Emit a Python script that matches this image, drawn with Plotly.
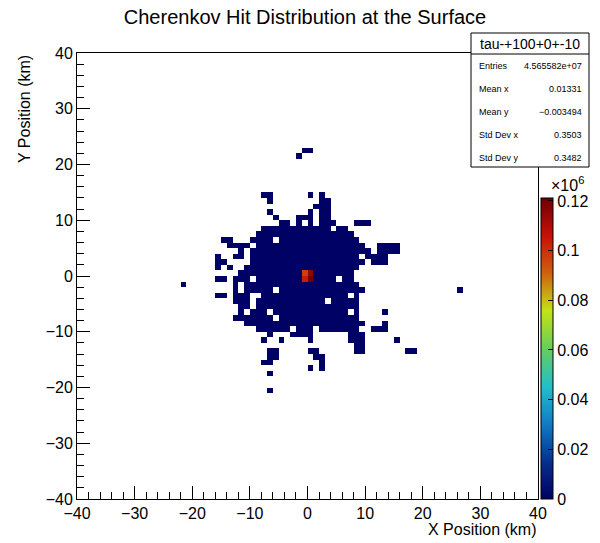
import numpy as np
import plotly.graph_objects as go

title = "Cherenkov Hit Distribution at the Surface"
hist_name = "tau-+100+0+-10"
stat_labels = ["Entries", "Mean x", "Mean y", "Std Dev x", "Std Dev y"]
stat_values = ["4.565582e+07", "0.01331", "\u22120.003494", "0.3503", "0.3482"]

# 1 km bins from -40 to 40 km on both axes
bin_edges = np.arange(-40, 41)

# occupied bins, as runs along x: (y bin low edge, first x bin, last x bin), km
hit_runs = [
    (22, -1, 0), (21, -2, -2),
    (14, -8, -7), (14, 0, 0), (14, 2, 2),
    (13, -7, -7), (13, 2, 3),
    (12, 1, 3),
    (11, -7, -7), (11, 0, 0), (11, 2, 3),
    (10, -6, -6), (10, -2, 0), (10, 2, 3),
    (9, -5, -4), (9, -2, -2), (9, 0, 0), (9, 2, 4), (9, 8, 10),
    (8, -8, 3), (8, 5, 6),
    (7, -9, 7),
    (6, -15, -14), (6, -10, -7), (6, -5, 8),
    (5, -14, -11), (5, -9, 9), (5, 12, 15),
    (4, -12, -12), (4, -10, 10), (4, 12, 15),
    (3, -16, -16), (3, -13, -12), (3, -10, 8), (3, 10, 13),
    (2, -16, -15), (2, -10, 9), (2, 11, 13),
    (1, -16, -16), (1, -14, -14), (1, -11, 8),
    (0, -12, 7),
    (-1, -16, -15), (-1, -13, -11), (-1, -9, 4), (-1, 6, 7),
    (-2, -22, -22), (-2, -13, -13), (-2, -11, 8),
    (-3, -13, -13), (-3, -11, -7), (-3, -5, 9), (-3, 26, 26),
    (-4, -16, -15), (-4, -13, -11), (-4, -8, 6), (-4, 8, 8),
    (-5, -13, -11), (-5, -9, 2), (-5, 4, 8),
    (-6, -12, -11), (-6, -9, 8),
    (-7, -12, -12), (-7, -10, -8), (-7, -6, 6), (-7, 8, 8), (-7, 13, 13),
    (-8, -13, -7), (-8, -5, 8),
    (-9, -11, 9), (-9, 13, 13),
    (-10, -9, -4), (-10, -2, 0), (-10, 2, 8), (-10, 11, 13),
    (-11, -7, -7), (-11, -3, 0), (-11, 7, 9),
    (-12, -8, -8), (-12, -5, -5), (-12, 0, 0), (-12, 7, 9), (-12, 15, 15),
    (-13, 8, 9),
    (-14, -7, -6), (-14, 0, 1), (-14, 8, 9), (-14, 17, 18),
    (-15, -7, -6), (-15, 1, 2),
    (-16, -8, -7), (-16, 2, 2),
    (-17, 0, 0), (-17, 2, 2),
    (-18, -7, -7),
    (-21, -7, -7),
]
halo_count = 300

# the four central bins hold almost everything
core_x = [-1, 0, -1, 0]
core_y = [0, 0, -1, -1]
core_counts = [97000, 115000, 104000, 121200]

cbar_ticks = [0, 20000, 40000, 60000, 80000, 100000, 120000]
cbar_text = ["0", "0.02", "0.04", "0.06", "0.08", "0.1", "0.12"]
axis_ticks = [-40, -30, -20, -10, 0, 10, 20, 30, 40]
axis_text = ["\u221240", "\u221230", "\u221220", "\u221210", "0", "10", "20", "30", "40"]

# ROOT kRainBow palette
rainbow = [
    [0.0, "rgb(0,0,99)"], [0.125, "rgb(5,48,142)"], [0.25, "rgb(15,124,198)"],
    [0.375, "rgb(35,192,201)"], [0.5, "rgb(102,206,90)"], [0.625, "rgb(196,226,22)"],
    [0.75, "rgb(208,97,13)"], [0.875, "rgb(199,16,8)"], [1.0, "rgb(110,0,2)"],
]

n = len(bin_edges) - 1
centers = (bin_edges[:-1] + bin_edges[1:]) / 2
z = [[None] * n for _ in range(n)]
for yb, x0, x1 in hit_runs:
    for xb in range(x0, x1 + 1):
        z[yb + 40][xb + 40] = halo_count
for xb, yb, c in zip(core_x, core_y, core_counts):
    z[yb + 40][xb + 40] = c

FONT = "Liberation Sans, Arial, Helvetica, sans-serif"
W, H = 600, 543
L, R, T, B = 77, 62, 53, 44
pw, ph = W - L - R, H - T - B


def px(x):
    return (x - L) / pw


def py(y):
    return (H - B - y) / ph


fig = go.Figure()
fig.add_trace(go.Heatmap(
    x=centers, y=centers, z=z,
    colorscale=rainbow, zmin=0, zmax=121200,
    hoverongaps=False,
    colorbar=dict(
        x=px(541), xanchor="left", xpad=0,
        y=0, yanchor="bottom", ypad=0,
        len=py(198), lenmode="fraction",
        thickness=12, outlinewidth=1, outlinecolor="black",
        tickvals=cbar_ticks, ticktext=cbar_text,
        ticks="inside", ticklen=5, tickcolor="black",
        tickfont=dict(family=FONT, size=16, color="black"),
    ),
))

axis_style = dict(
    range=[-40, 40], tickvals=axis_ticks, ticktext=axis_text,
    ticks="inside", ticklen=13, tickcolor="black",
    minor=dict(ticks="inside", ticklen=7, dtick=2, tickcolor="black"),
    showline=True, linecolor="black", linewidth=1, mirror=True,
    showgrid=False, zeroline=False,
    tickfont=dict(family=FONT, size=16, color="black"),
)

fig.update_layout(
    width=W, height=H,
    margin=dict(l=L, r=R, t=T, b=B, autoexpand=False),
    paper_bgcolor="white", plot_bgcolor="white",
    title=dict(text=title, x=305 / W, xanchor="center", y=1 - 17 / H, yanchor="middle",
               font=dict(family=FONT, size=20, color="black")),
    xaxis=axis_style, yaxis=axis_style,
)

annotations = [
    dict(text="X Position (km)", x=1, y=py(529), xanchor="right", yanchor="middle"),
    dict(text="Y Position (km)", x=px(24), y=1, xanchor="center", yanchor="top", textangle=-90),
    dict(text="\u00d710<sup>6</sup>", x=px(549), y=py(184), xanchor="left", yanchor="middle"),
]
for a in annotations:
    fig.add_annotation(xref="paper", yref="paper", showarrow=False,
                       font=dict(family=FONT, size=16, color="black"), **a)

# stats box
bx0, bx1, by0, by1, by_title = 471, 589, 33, 167, 54
fig.add_shape(type="rect", xref="paper", yref="paper", layer="above",
              x0=px(bx0), x1=px(bx1), y0=py(by1), y1=py(by0),
              fillcolor="white", line=dict(color="black", width=1))
fig.add_shape(type="line", xref="paper", yref="paper", layer="above",
              x0=px(bx0), x1=px(bx1), y0=py(by_title), y1=py(by_title),
              line=dict(color="black", width=1))
fig.add_annotation(xref="paper", yref="paper", showarrow=False, text=hist_name,
                   x=px((bx0 + bx1) / 2), y=py((by0 + by_title) / 2),
                   xanchor="center", yanchor="middle",
                   font=dict(family=FONT, size=14, color="black"))
row_y = [66, 89, 112, 135, 158]
for lab, val, ry in zip(stat_labels, stat_values, row_y):
    fig.add_annotation(xref="paper", yref="paper", showarrow=False, text=lab,
                       x=px(477), y=py(ry), xanchor="left", yanchor="middle",
                       font=dict(family=FONT, size=9, color="black"))
    fig.add_annotation(xref="paper", yref="paper", showarrow=False, text=val,
                       x=px(584), y=py(ry), xanchor="right", yanchor="middle",
                       font=dict(family=FONT, size=9, color="black"))

# drop the page's default body margin so the figure sits at the window's corner
fig.write_html("out.html", config={"displayModeBar": False},
               post_script="document.body.style.margin = '0';")
